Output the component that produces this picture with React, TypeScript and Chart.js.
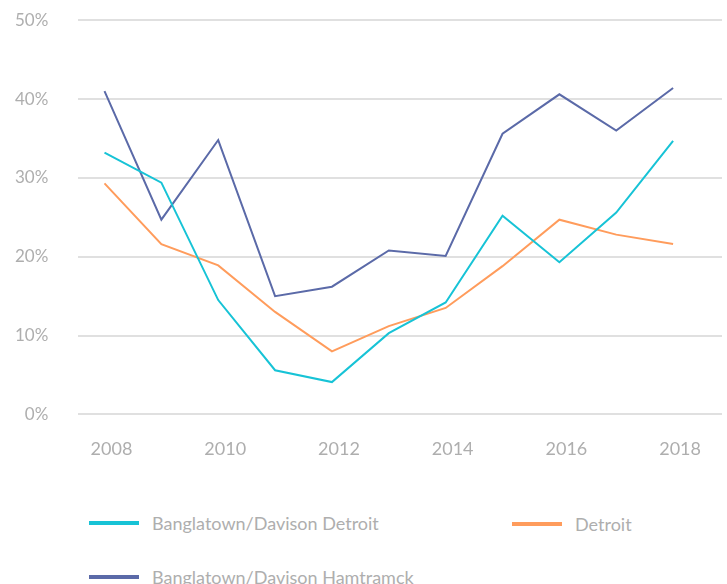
import React, { useEffect, useRef } from "react";
import { Chart, registerables } from "chart.js";

Chart.register(...registerables);

const years = [2008, 2009, 2010, 2011, 2012, 2013, 2014, 2015, 2016, 2017, 2018];
const xTickValues = [2008, 2010, 2012, 2014, 2016, 2018];
const yTickValues = [0, 10, 20, 30, 40, 50];

const seriesNames = [
  "Banglatown/Davison Detroit",
  "Detroit",
  "Banglatown/Davison Hamtramck",
];
const banglatownDetroit = [33.2, 29.4, 14.5, 5.6, 4.1, 10.3, 14.2, 25.2, 19.3, 25.6, 34.7];
const detroit = [29.3, 21.6, 18.9, 13.0, 8.0, 11.2, 13.5, 18.8, 24.7, 22.8, 21.6];
const banglatownHamtramck = [41.0, 24.7, 34.8, 15.0, 16.2, 20.8, 20.1, 35.6, 40.6, 36.0, 41.4];

const colors = ["#17c3d6", "#ff9c5c", "#5b6aa8"];
const FONT = "Lato, 'Open Sans', sans-serif";
const TEXT = "#aeaeae";

const CW = 755;
const CH = 518;

export default function App() {
  const ref = useRef<HTMLCanvasElement | null>(null);

  useEffect(() => {
    if (!ref.current) return;
    const all = [banglatownDetroit, detroit, banglatownHamtramck];
    const chart = new Chart(ref.current, {
      type: "line",
      data: {
        datasets: all.map((vals, i) => ({
          label: seriesNames[i],
          data: years.map((y, j) => ({ x: y, y: vals[j] })),
          borderColor: colors[i],
          backgroundColor: colors[i],
          borderWidth: 2,
          pointRadius: 0,
          tension: 0,
          fill: false,
        })),
      },
      options: {
        animation: false,
        responsive: false,
        maintainAspectRatio: false,
        layout: { padding: { left: 13, right: 5, top: 12, bottom: 14 } },
        plugins: { legend: { display: false }, tooltip: { enabled: false } },
        scales: {
          x: {
            type: "linear",
            min: 2007.54,
            max: 2018.86,
            afterBuildTicks: (axis: any) => {
              axis.ticks = xTickValues.map((v) => ({ value: v }));
            },
            grid: { display: false, drawTicks: false },
            border: { display: false },
            ticks: {
              padding: 24,
              labelOffset: 7,
              color: TEXT,
              font: { family: FONT, size: 18 },
              callback: (v: any) => String(v),
            },
          },
          y: {
            min: 0,
            max: 50,
            afterBuildTicks: (axis: any) => {
              axis.ticks = yTickValues.map((v) => ({ value: v }));
            },
            grid: { color: "#e0e0e0", lineWidth: 2, drawTicks: false },
            border: { display: false },
            ticks: {
              padding: 30,
              color: TEXT,
              font: { family: FONT, size: 17 },
              callback: (v: any) => v + "%",
            },
          },
        },
      },
    });
    return () => chart.destroy();
  }, []);

  const legendItems = [
    { i: 0, left: 89, top: 523 },
    { i: 1, left: 512, top: 524 },
    { i: 2, left: 89, top: 577 },
  ];

  return (
    <div style={{ position: "absolute", left: 0, top: 0, width: 727, height: 584, background: "#fff", overflow: "hidden" }}>
      <canvas ref={ref} width={CW} height={CH} style={{ position: "absolute", left: -28, top: -20, display: "block", width: CW, height: CH }} />
      {legendItems.map(({ i, left, top }) => (
        <div key={i} style={{ position: "absolute", left, top: top - 12, height: 24, display: "flex", alignItems: "center", fontFamily: FONT, fontSize: 18, color: TEXT, whiteSpace: "nowrap" }}>
          <span style={{ display: "inline-block", width: 50, height: 4, background: colors[i], marginRight: 13 }} />
          <span>{seriesNames[i]}</span>
        </div>
      ))}
    </div>
  );
}
